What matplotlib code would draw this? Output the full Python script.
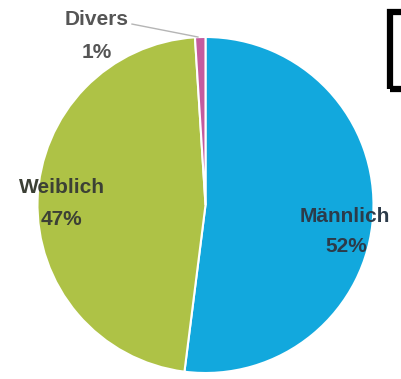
import matplotlib.pyplot as plt
from matplotlib.patches import Rectangle

labels = ["Männlich", "Weiblich", "Divers"]
shares = [52, 47, 1]
pct_text = ["52%", "47%", "1%"]
colors = ["#12a8dd", "#aec246", "#c45b9e"]
text_colors = ["#2c3b4a", "#3c4035", "#555555"]

# label anchors (data coords, pie radius = 1), baseline of the name and of the percent
name_pos = [(0.83, -0.10), (-0.855, 0.071), (-0.646, 1.071)]
pct_pos = [(0.84, -0.28), (-0.86, -0.119), (-0.646, 0.875)]

plt.rcParams['font.family'] = ['Liberation Sans', 'DejaVu Sans']

W, H = 401, 379
fig = plt.figure(figsize=(W / 100, H / 100), dpi=100)
cx, cy, r = 205.5, 205, 168
ax = fig.add_axes([(cx - r) / W, (H - cy - r) / H, 2 * r / W, 2 * r / H])

ax.pie(shares, colors=colors, startangle=90, counterclock=False,
       wedgeprops=dict(edgecolor="white", linewidth=1.5))
ax.set_xlim(-1, 1)
ax.set_ylim(-1, 1)
ax.axis("off")

for i in range(len(labels)):
    ax.text(name_pos[i][0], name_pos[i][1], labels[i], ha="center", va="baseline",
            fontsize=15, fontweight="bold", color=text_colors[i], clip_on=False)
    ax.text(pct_pos[i][0], pct_pos[i][1], pct_text[i], ha="center", va="baseline",
            fontsize=15, fontweight="bold", color=text_colors[i], clip_on=False)

# leader line for the small slice
ax.plot([-0.4375, -0.045], [1.077, 1.0], color="#b5b5b5", lw=1, clip_on=False)

# cut-off black frame at the top right
fig.patches.append(Rectangle((390 / W, (H - 89) / H), 40 / W, 77 / H,
                             transform=fig.transFigure, fill=False,
                             edgecolor="black", linewidth=4.5))

fig.savefig("out.png", dpi=100)
